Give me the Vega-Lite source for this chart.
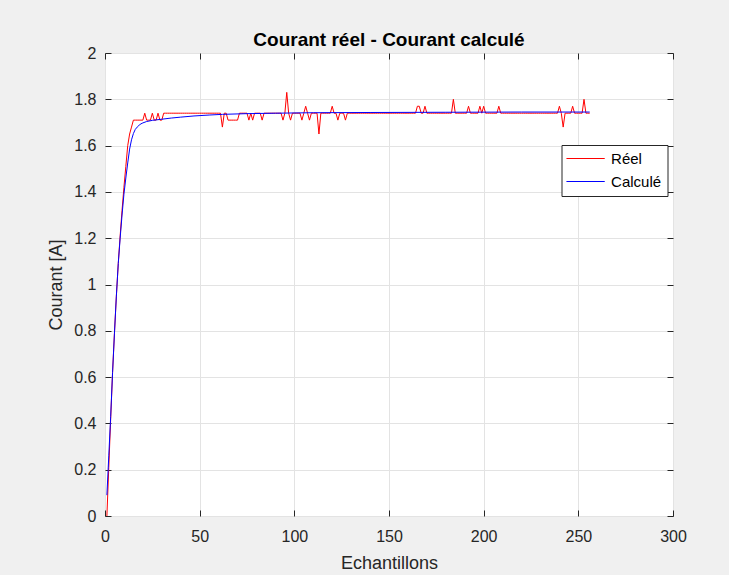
{
  "$schema": "https://vega.github.io/schema/vega-lite/v6.json",
  "width": 568,
  "height": 463,
  "autosize": {"type": "none"},
  "padding": {"left": 105, "top": 53, "right": 56, "bottom": 59},
  "background": "#f0f0f0",
  "title": {
    "text": "Courant réel - Courant calculé",
    "font": "Liberation Sans",
    "fontSize": 19,
    "fontWeight": "bold",
    "color": "#000000",
    "frame": "group",
    "offset": -5
  },
  "config": {
    "view": {"fill": "#ffffff", "stroke": "#262626", "strokeWidth": 1},
    "axis": {
      "labelFont": "Liberation Sans",
      "labelFontSize": 16,
      "labelColor": "#262626",
      "labelFlush": false,
      "labelOverlap": false,
      "titleFont": "Liberation Sans",
      "titleFontSize": 18,
      "titleFontWeight": "normal",
      "titleColor": "#262626",
      "tickColor": "#262626",
      "tickSize": -6,
      "domain": false,
      "gridColor": "#e3e3e3",
      "gridOpacity": 1,
      "gridWidth": 1
    }
  },
  "datasets": {
    "reel": [
      {"n":1,"i":0},{"n":2,"i":0.21},{"n":3,"i":0.42},{"n":4,"i":0.62},{"n":5,"i":0.79},{"n":6,"i":0.95},{"n":7,"i":1.09},{"n":8,"i":1.21},{"n":9,"i":1.32},{"n":10,"i":1.42},
      {"n":11,"i":1.51},{"n":12,"i":1.6},{"n":13,"i":1.65},{"n":14,"i":1.68},{"n":15,"i":1.71},{"n":16,"i":1.71},{"n":17,"i":1.71},{"n":18,"i":1.71},{"n":19,"i":1.71},{"n":20,"i":1.71},
      {"n":21,"i":1.74},{"n":22,"i":1.71},{"n":23,"i":1.71},{"n":24,"i":1.71},{"n":25,"i":1.74},{"n":26,"i":1.71},{"n":27,"i":1.71},{"n":28,"i":1.74},{"n":29,"i":1.71},{"n":30,"i":1.71},
      {"n":31,"i":1.74},{"n":32,"i":1.74},{"n":33,"i":1.74},{"n":34,"i":1.74},{"n":35,"i":1.74},{"n":36,"i":1.74},{"n":37,"i":1.74},{"n":38,"i":1.74},{"n":39,"i":1.74},{"n":40,"i":1.74},
      {"n":41,"i":1.74},{"n":42,"i":1.74},{"n":43,"i":1.74},{"n":44,"i":1.74},{"n":45,"i":1.74},{"n":46,"i":1.74},{"n":47,"i":1.74},{"n":48,"i":1.74},{"n":49,"i":1.74},{"n":50,"i":1.74},
      {"n":51,"i":1.74},{"n":52,"i":1.74},{"n":53,"i":1.74},{"n":54,"i":1.74},{"n":55,"i":1.74},{"n":56,"i":1.74},{"n":57,"i":1.74},{"n":58,"i":1.74},{"n":59,"i":1.74},{"n":60,"i":1.74},
      {"n":61,"i":1.74},{"n":62,"i":1.68},{"n":63,"i":1.74},{"n":64,"i":1.74},{"n":65,"i":1.71},{"n":66,"i":1.71},{"n":67,"i":1.71},{"n":68,"i":1.71},{"n":69,"i":1.71},{"n":70,"i":1.71},
      {"n":71,"i":1.74},{"n":72,"i":1.74},{"n":73,"i":1.74},{"n":74,"i":1.74},{"n":75,"i":1.74},{"n":76,"i":1.71},{"n":77,"i":1.74},{"n":78,"i":1.71},{"n":79,"i":1.74},{"n":80,"i":1.74},
      {"n":81,"i":1.74},{"n":82,"i":1.74},{"n":83,"i":1.71},{"n":84,"i":1.74},{"n":85,"i":1.74},{"n":86,"i":1.74},{"n":87,"i":1.74},{"n":88,"i":1.74},{"n":89,"i":1.74},{"n":90,"i":1.74},
      {"n":91,"i":1.74},{"n":92,"i":1.74},{"n":93,"i":1.74},{"n":94,"i":1.71},{"n":95,"i":1.74},{"n":96,"i":1.83},{"n":97,"i":1.74},{"n":98,"i":1.71},{"n":99,"i":1.74},{"n":100,"i":1.74},
      {"n":101,"i":1.74},{"n":102,"i":1.74},{"n":103,"i":1.74},{"n":104,"i":1.71},{"n":105,"i":1.74},{"n":106,"i":1.77},{"n":107,"i":1.74},{"n":108,"i":1.71},{"n":109,"i":1.74},{"n":110,"i":1.74},
      {"n":111,"i":1.74},{"n":112,"i":1.74},{"n":113,"i":1.65},{"n":114,"i":1.74},{"n":115,"i":1.74},{"n":116,"i":1.74},{"n":117,"i":1.74},{"n":118,"i":1.74},{"n":119,"i":1.74},{"n":120,"i":1.77},
      {"n":121,"i":1.74},{"n":122,"i":1.74},{"n":123,"i":1.71},{"n":124,"i":1.74},{"n":125,"i":1.74},{"n":126,"i":1.74},{"n":127,"i":1.71},{"n":128,"i":1.74},{"n":129,"i":1.74},{"n":130,"i":1.74},
      {"n":131,"i":1.74},{"n":132,"i":1.74},{"n":133,"i":1.74},{"n":134,"i":1.74},{"n":135,"i":1.74},{"n":136,"i":1.74},{"n":137,"i":1.74},{"n":138,"i":1.74},{"n":139,"i":1.74},{"n":140,"i":1.74},
      {"n":141,"i":1.74},{"n":142,"i":1.74},{"n":143,"i":1.74},{"n":144,"i":1.74},{"n":145,"i":1.74},{"n":146,"i":1.74},{"n":147,"i":1.74},{"n":148,"i":1.74},{"n":149,"i":1.74},{"n":150,"i":1.74},
      {"n":151,"i":1.74},{"n":152,"i":1.74},{"n":153,"i":1.74},{"n":154,"i":1.74},{"n":155,"i":1.74},{"n":156,"i":1.74},{"n":157,"i":1.74},{"n":158,"i":1.74},{"n":159,"i":1.74},{"n":160,"i":1.74},
      {"n":161,"i":1.74},{"n":162,"i":1.74},{"n":163,"i":1.74},{"n":164,"i":1.74},{"n":165,"i":1.77},{"n":166,"i":1.77},{"n":167,"i":1.74},{"n":168,"i":1.74},{"n":169,"i":1.77},{"n":170,"i":1.74},
      {"n":171,"i":1.74},{"n":172,"i":1.74},{"n":173,"i":1.74},{"n":174,"i":1.74},{"n":175,"i":1.74},{"n":176,"i":1.74},{"n":177,"i":1.74},{"n":178,"i":1.74},{"n":179,"i":1.74},{"n":180,"i":1.74},
      {"n":181,"i":1.74},{"n":182,"i":1.74},{"n":183,"i":1.74},{"n":184,"i":1.8},{"n":185,"i":1.74},{"n":186,"i":1.74},{"n":187,"i":1.74},{"n":188,"i":1.74},{"n":189,"i":1.74},{"n":190,"i":1.74},
      {"n":191,"i":1.74},{"n":192,"i":1.77},{"n":193,"i":1.74},{"n":194,"i":1.74},{"n":195,"i":1.74},{"n":196,"i":1.74},{"n":197,"i":1.74},{"n":198,"i":1.77},{"n":199,"i":1.74},{"n":200,"i":1.77},
      {"n":201,"i":1.74},{"n":202,"i":1.74},{"n":203,"i":1.74},{"n":204,"i":1.74},{"n":205,"i":1.74},{"n":206,"i":1.74},{"n":207,"i":1.74},{"n":208,"i":1.77},{"n":209,"i":1.74},{"n":210,"i":1.74},
      {"n":211,"i":1.74},{"n":212,"i":1.74},{"n":213,"i":1.74},{"n":214,"i":1.74},{"n":215,"i":1.74},{"n":216,"i":1.74},{"n":217,"i":1.74},{"n":218,"i":1.74},{"n":219,"i":1.74},{"n":220,"i":1.74},
      {"n":221,"i":1.74},{"n":222,"i":1.74},{"n":223,"i":1.74},{"n":224,"i":1.74},{"n":225,"i":1.74},{"n":226,"i":1.74},{"n":227,"i":1.74},{"n":228,"i":1.74},{"n":229,"i":1.74},{"n":230,"i":1.74},
      {"n":231,"i":1.74},{"n":232,"i":1.74},{"n":233,"i":1.74},{"n":234,"i":1.74},{"n":235,"i":1.74},{"n":236,"i":1.74},{"n":237,"i":1.74},{"n":238,"i":1.74},{"n":239,"i":1.74},{"n":240,"i":1.77},
      {"n":241,"i":1.74},{"n":242,"i":1.68},{"n":243,"i":1.74},{"n":244,"i":1.74},{"n":245,"i":1.74},{"n":246,"i":1.74},{"n":247,"i":1.77},{"n":248,"i":1.74},{"n":249,"i":1.74},{"n":250,"i":1.74},
      {"n":251,"i":1.74},{"n":252,"i":1.74},{"n":253,"i":1.8},{"n":254,"i":1.74},{"n":255,"i":1.74},{"n":256,"i":1.74}
    ],
    "calcule": [
      {"n":1,"i":0.09},{"n":2,"i":0.26},{"n":3,"i":0.43},{"n":4,"i":0.62},{"n":5,"i":0.79},{"n":6,"i":0.95},{"n":7,"i":1.09},{"n":8,"i":1.2},{"n":9,"i":1.3},{"n":10,"i":1.39},
      {"n":11,"i":1.46},{"n":12,"i":1.525},{"n":13,"i":1.585},{"n":14,"i":1.625},{"n":15,"i":1.652},{"n":16,"i":1.67},{"n":17,"i":1.68},{"n":18,"i":1.688},{"n":19,"i":1.694},{"n":20,"i":1.698},
      {"n":22,"i":1.704},{"n":25,"i":1.709},{"n":30,"i":1.714},{"n":35,"i":1.719},{"n":40,"i":1.723},{"n":47,"i":1.728},{"n":55,"i":1.732},{"n":62,"i":1.735},{"n":75,"i":1.738},{"n":90,"i":1.74},
      {"n":110,"i":1.742},{"n":140,"i":1.743},{"n":180,"i":1.744},{"n":220,"i":1.745},{"n":256,"i":1.745}
    ]
  },
  "layer": [
    {
      "data": {"name": "reel"},
      "mark": {"type": "line", "strokeWidth": 1, "clip": true},
      "encoding": {
        "x": {
          "field": "n",
          "type": "quantitative",
          "scale": {"domain": [0, 300], "nice": false, "zero": false},
          "axis": {
            "orient": "bottom",
            "title": "Echantillons",
            "values": [0, 50, 100, 150, 200, 250, 300],
            "labelPadding": 18,
            "titlePadding": 10,
            "grid": true
          }
        },
        "y": {
          "field": "i",
          "type": "quantitative",
          "scale": {"domain": [0, 2], "nice": false},
          "axis": {
            "orient": "left",
            "title": "Courant [A]",
            "values": [0, 0.2, 0.4, 0.6, 0.8, 1, 1.2, 1.4, 1.6, 1.8, 2],
            "format": "~g",
            "labelPadding": 15,
            "titlePadding": 8,
            "grid": true
          }
        },
        "color": {
          "datum": "Réel",
          "type": "nominal",
          "scale": {"domain": ["Réel", "Calculé"], "range": ["#ff0000", "#0000ff"]},
          "legend": {
            "orient": "none",
            "legendX": 456.5,
            "legendY": 92,
            "title": null,
            "symbolType": "M-3.83,0H3.83",
            "symbolSize": 100,
            "symbolStrokeWidth": 1,
            "symbolOffset": 10.6,
            "labelOffset": 18,
            "labelFont": "Liberation Sans",
            "labelFontSize": 15,
            "labelColor": "#000000",
            "labelLimit": 0,
            "padding": 6,
            "rowPadding": 7,
            "strokeColor": "#262626",
            "fillColor": "#ffffff",
            "cornerRadius": 0
          }
        }
      }
    },
    {
      "data": {"name": "calcule"},
      "mark": {"type": "line", "strokeWidth": 1, "clip": true},
      "encoding": {
        "x": {
          "field": "n",
          "type": "quantitative",
          "axis": {"orient": "top", "title": null, "labels": false, "grid": false, "values": [0, 50, 100, 150, 200, 250, 300]}
        },
        "y": {
          "field": "i",
          "type": "quantitative",
          "axis": {"orient": "right", "title": null, "labels": false, "grid": false, "values": [0, 0.2, 0.4, 0.6, 0.8, 1, 1.2, 1.4, 1.6, 1.8, 2]}
        },
        "color": {"datum": "Calculé", "type": "nominal"}
      }
    }
  ],
  "resolve": {"axis": {"x": "independent", "y": "independent"}}
}
